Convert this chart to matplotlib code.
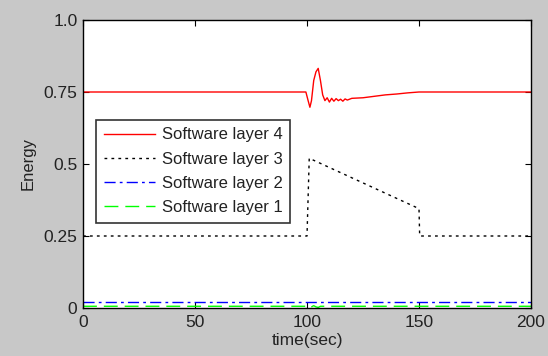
import matplotlib
matplotlib.use("Agg")
import matplotlib.pyplot as plt

# Data
t4 = [0, 99.5, 100.5, 101.3, 102, 103, 104, 105, 106, 107, 108, 109, 110, 111, 112,
      113, 114, 115, 116, 117, 118, 120, 125, 130, 135, 140, 145, 150, 200]
e4 = [0.75, 0.75, 0.72, 0.697, 0.72, 0.79, 0.82, 0.832, 0.79, 0.74, 0.72, 0.73, 0.715,
      0.728, 0.718, 0.727, 0.72, 0.725, 0.718, 0.726, 0.722, 0.728, 0.73, 0.735, 0.74,
      0.743, 0.747, 0.75, 0.75]

t3 = [0, 100, 101, 150, 150.3, 200]
e3 = [0.25, 0.25, 0.52, 0.345, 0.25, 0.25]

t2 = [0, 200]
e2 = [0.022, 0.022]

t1 = [0, 100, 101, 102, 103, 104, 105, 106, 108, 200]
e1 = [0.006, 0.006, 0.0, 0.004, 0.008, 0.004, 0.002, 0.006, 0.006, 0.006]

labels = ["Software layer 4", "Software layer 3", "Software layer 2", "Software layer 1"]
xticks = [0, 50, 100, 150, 200]
yticks = [0, 0.25, 0.5, 0.75, 1.0]
yticklabels = ["0", "0.25", "0.5", "0.75", "1.0"]

plt.rcParams['font.family'] = ['Liberation Sans', 'DejaVu Sans']

fig = plt.figure(figsize=(5.48, 3.56), dpi=100, facecolor='#c8c8c8')
ax = fig.add_axes([83/548, 1-308/356, 448/548, 288/356])
ax.set_facecolor('white')

ax.plot(t4, e4, color='#ff0000', lw=1.0, ls='-', label=labels[0])
ax.plot(t3, e3, color='black', lw=1.0, ls=(0, (2, 3)), label=labels[1])
ax.plot(t2, e2, color='#0000ff', lw=1.0, ls=(0, (8, 3, 2, 3)), label=labels[2])
ax.plot(t1, e1, color='#00ff00', lw=1.0, ls=(0, (10, 5)), label=labels[3])

ax.set_xlim(0, 200)
ax.set_ylim(0, 1.0)
ax.set_xticks(xticks)
ax.set_xticklabels([str(x) for x in xticks])
ax.set_yticks(yticks)
ax.set_yticklabels(yticklabels)
ax.tick_params(direction='in', top=True, right=True, length=4, labelsize=12.5,
               colors='black', labelcolor='#222222')
ax.tick_params(axis='y', pad=4)
ax.tick_params(axis='x', pad=5)
for s in ax.spines.values():
    s.set_linewidth(1.0)

ax.set_xlabel("time(sec)", fontsize=12.5, color='#222222', labelpad=2)
ax.set_ylabel("Energy", fontsize=12, color='#222222', labelpad=6)

leg = ax.legend(loc='upper left', bbox_to_anchor=(13/448, 188/288), borderaxespad=0,
                fontsize=12, frameon=True, fancybox=False, edgecolor='black',
                handlelength=3.1, labelspacing=0.55, borderpad=0.45, handletextpad=0.4)
leg.get_frame().set_linewidth(1.2)
for t in leg.get_texts():
    t.set_color('#222222')

fig.savefig("out.png", dpi=100, facecolor=fig.get_facecolor())
